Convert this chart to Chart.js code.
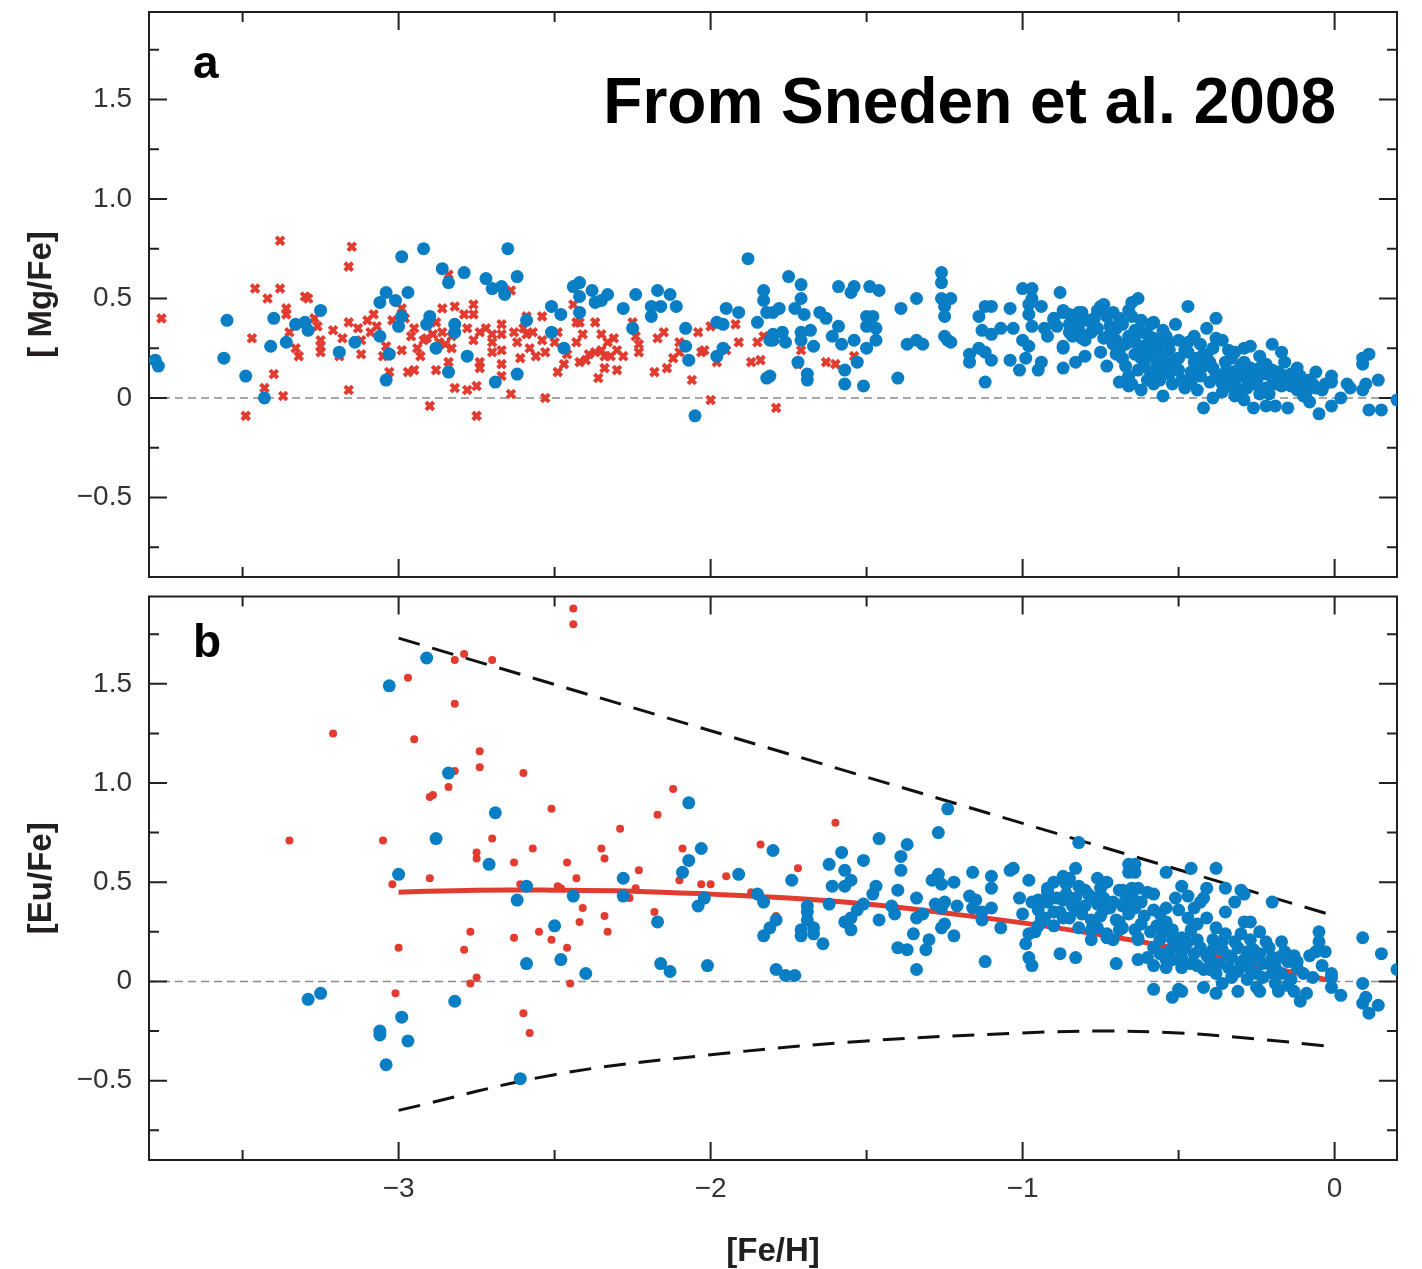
<!DOCTYPE html>
<html>
<head>
<meta charset="utf-8">
<script src="https://cdn.jsdelivr.net/npm/chart.js@4.4.1/dist/chart.umd.min.js"></script>
<style>
  body { margin: 0; background: #fff; width: 1422px; height: 1269px; position: relative; overflow: hidden; }
  .panel { position: absolute; left: 0; width: 1422px; }
  #topWrap { top: 0; height: 590px; }
  #botWrap { top: 590px; height: 679px; }
</style>
</head>
<body>
<div class="panel" id="topWrap"><canvas id="mgChart" width="1422" height="590"></canvas></div>
<div class="panel" id="botWrap"><canvas id="euChart" width="1422" height="679"></canvas></div>
<script>
// axis ranges and ticks
const xRange = [-3.8, 0.2];
const yRange = [-0.9, 1.94];
const xTickValues = [-3, -2, -1, 0];
const xTickText = ['\u22123', '\u22122', '\u22121', '0'];
const xMinorTicks = [-3.5, -2.5, -1.5, -0.5];
const yTickValues = [-0.5, 0, 0.5, 1, 1.5];
const yTickText = ['\u22120.5', '0', '0.5', '1.0', '1.5'];
const yMinorTicks = [-0.75, -0.25, 0.25, 0.75, 1.25, 1.75];

// panel a: [Mg/Fe] vs [Fe/H]
const mgBlue = [
  [-3.78,0.19],[-3.77,0.16],[-3.55,0.39],[-3.56,0.20],[-3.49,0.11],[-3.43,0.00],[-3.40,0.40],[-3.41,0.26],[-3.36,0.28],
  [-3.33,0.37],[-3.30,0.38],[-3.29,0.34],[-3.25,0.44],[-3.19,0.23],[-3.14,0.28],[-3.06,0.48],[-3.04,0.53],[-3.01,0.49],
  [-2.97,0.53],[-2.99,0.71],[-2.92,0.75],[-2.86,0.65],[-2.84,0.58],[-2.99,0.41],[-3.00,0.36],[-3.06,0.31],[-3.03,0.22],
  [-3.04,0.09],[-2.90,0.41],[-2.91,0.37],[-2.88,0.25],[-2.84,0.13],[-2.82,0.37],[-2.82,0.33],
  [-2.79,0.63],[-2.78,0.21],[-2.72,0.60],[-2.70,0.55],[-2.67,0.56],[-2.66,0.52],[-2.65,0.75],[-2.62,0.61],[-2.59,0.39],
  [-2.62,0.12],[-2.69,0.08],[-2.51,0.46],[-2.48,0.42],[-2.51,0.33],[-2.47,0.25],[-2.44,0.56],[-2.42,0.58],[-2.42,0.51],
  [-2.42,0.43],[-2.38,0.54],[-2.37,0.48],[-2.35,0.49],[-2.33,0.52],[-2.28,0.45],[-2.25,0.35],[-2.24,0.52],[-2.19,0.46],
  [-2.19,0.41],[-2.17,0.54],[-2.16,0.46],[-2.13,0.52],[-2.11,0.46],[-2.08,0.35],[-2.08,0.26],[-2.07,0.19],[-2.05,-0.09],
  [-1.98,0.38],[-1.96,0.37],[-1.98,0.21],[-1.96,0.25],[-1.95,0.45],[-1.91,0.43],[-1.88,0.70],[-1.85,0.38],[-1.83,0.54],
  [-1.83,0.49],[-1.82,0.43],[-1.81,0.29],[-1.82,0.10],
  [-1.80,0.43],[-1.80,0.32],[-1.80,0.29],[-1.81,0.11],[-1.78,0.45],[-1.77,0.33],[-1.76,0.28],[-1.75,0.61],[-1.73,0.45],
  [-1.71,0.57],[-1.71,0.50],[-1.71,0.33],[-1.71,0.29],[-1.70,0.42],[-1.72,0.18],[-1.69,0.12],[-1.69,0.09],[-1.68,0.34],
  [-1.67,0.26],[-1.65,0.43],[-1.63,0.40],[-1.61,0.31],[-1.59,0.36],[-1.59,0.56],[-1.58,0.27],[-1.57,0.14],[-1.57,0.07],
  [-1.55,0.53],[-1.54,0.56],[-1.54,0.29],[-1.53,0.18],[-1.51,0.06],[-1.50,0.25],[-1.50,0.41],[-1.50,0.36],[-1.49,0.56],
  [-1.48,0.41],[-1.47,0.35],[-1.47,0.29],[-1.46,0.54],[-1.40,0.10],[-1.39,0.45],[-1.37,0.27],[-1.34,0.50],[-1.34,0.29],
  [-1.32,0.27],[-1.26,0.63],[-1.26,0.58],[-1.26,0.50],[-1.25,0.46],[-1.25,0.41],[-1.23,0.50],[-1.25,0.31],[-1.24,0.29],
  [-1.23,0.28],[-1.17,0.22],[-1.17,0.18],[-1.14,0.41],[-1.14,0.25],[-1.13,0.34],[-1.12,0.23],[-1.12,0.46],[-1.12,0.08],
  [-1.10,0.46],[-1.10,0.19],[-1.10,0.32],[-1.07,0.35],[-1.04,0.45],[-1.04,0.19],[-1.03,0.35],[-1.01,0.14],[-1.00,0.55],
  [-1.00,0.29],[-0.99,0.20],[-0.98,0.26],[-0.97,0.55],[-0.98,0.47],[-0.97,0.50],[-0.98,0.42],[-0.97,0.36],[-0.95,0.14],
  [-0.94,0.18],[-0.94,0.46],[-0.93,0.35],[-0.92,0.31],[-0.90,0.40],[-0.88,0.53],[-0.87,0.44],[-0.87,0.15],[-0.87,0.25],
  [-0.85,0.37],[-0.84,0.31],[-0.83,0.18],[-0.82,0.40],[-0.82,0.34],
  [-0.87,0.43],[-0.85,0.42],[-0.85,0.33],[-0.87,0.26],[-0.89,0.36],[-0.90,0.39],
  [-0.82,0.43],[-0.82,0.37],[-0.79,0.39],[-0.78,0.33],[-0.80,0.29],[-0.76,0.44],[-0.74,0.47],[-0.73,0.41],[-0.76,0.35],
  [-0.74,0.30],[-0.75,0.23],[-0.73,0.16],[-0.71,0.43],[-0.70,0.35],[-0.70,0.29],[-0.69,0.24],[-0.69,0.08],[-0.68,0.37],
  [-0.67,0.16],[-0.66,0.44],[-0.65,0.48],[-0.65,0.41],[-0.64,0.34],[-0.64,0.28],[-0.65,0.07],[-0.63,0.50],[-0.62,0.39],
  [-0.62,0.26],[-0.62,0.20],[-0.63,0.14],[-0.62,0.04],[-0.60,0.32],[-0.60,0.21],[-0.59,0.13],[-0.58,0.38],[-0.57,0.25],
  [-0.57,0.18],[-0.56,0.09],[-0.55,0.01],[-0.54,0.31],[-0.53,0.24],[-0.54,0.16],[-0.52,0.07],[-0.51,0.37],[-0.50,0.29],
  [-0.75,0.46],[-0.81,0.43],[-0.78,0.38],[-0.81,0.30],[-0.80,0.21],[-0.66,0.06],[-0.59,0.37],[-0.54,0.30],[-0.58,0.07],
  [-0.47,0.46],[-0.41,0.35],[-0.38,0.40],[-0.45,0.31],[-0.38,0.30],[-0.36,0.29],[-0.39,0.25],[-0.47,0.23],[-0.44,0.20],
  [-0.41,0.21],[-0.34,0.24],[-0.32,0.23],[-0.29,0.25],[-0.27,0.26],[-0.29,0.18],[-0.24,0.21],[-0.20,0.27],[-0.17,0.23],
  [-0.24,0.15],[-0.16,0.18],[-0.12,0.15],[-0.06,0.13],[-0.01,0.11],[-0.01,0.08],[-0.13,0.08],[0.04,0.07],[0.05,0.05],
  [0.09,0.20],[0.11,0.22],[0.09,0.17],[0.14,0.09],[0.10,0.07],[0.09,0.04],[0.02,0.00],[0.11,-0.06],[0.15,-0.06],
  [0.20,-0.01],[-0.05,-0.08],[-0.01,-0.04],[-0.08,-0.02],[-0.15,-0.05],[-0.19,-0.04],[-0.22,-0.04],[-0.26,-0.05],
  [-0.29,-0.01],[-0.32,0.01],[-0.39,0.00],[-0.42,-0.05],[-0.36,0.03],[-0.32,0.07],[-0.28,0.05],[-0.25,0.08],[-0.22,0.05],
  [-0.18,0.08],[-0.15,0.10],[-0.12,0.04],[-0.09,0.03],[-0.04,0.04],[-0.22,0.17],[-0.18,0.13],[-0.28,0.13],[-0.33,0.13],
  [-0.37,0.10],[-0.40,0.08],[-0.43,0.11],[-0.46,0.13],[-0.39,0.15],[-0.31,0.11],[-0.26,0.07],[-0.49,0.09],[-0.48,0.05],
  [-0.45,0.18],[-0.42,0.16],[-0.35,0.18],[-0.33,0.20],[-0.30,0.16],[-0.27,0.10],[-0.20,0.10],[-0.17,0.06],[-0.14,0.12],
  [-0.10,0.08],[-0.07,0.07],[-0.24,0.02],[-0.34,0.06],[-0.44,0.04],[-0.47,0.28],[-0.43,0.27],[-0.50,0.20],[-0.53,0.12],
  [-0.56,0.28],[-0.60,0.27],[-0.66,0.31],[-0.68,0.20],[-0.71,0.27],
  [-0.62,0.33],[-0.58,0.30],[-0.55,0.22],[-0.52,0.18],[-0.50,0.14],[-0.48,0.24],[-0.46,0.08],[-0.44,0.14],[-0.42,0.22],
  [-0.40,0.18],[-0.38,0.12],[-0.36,0.07],[-0.35,0.13],[-0.33,0.09],[-0.31,0.14],[-0.30,0.04],[-0.28,0.09],[-0.27,0.15],
  [-0.25,0.11],[-0.23,0.12],[-0.21,0.02],[-0.20,0.14],[-0.19,0.07],[-0.16,0.11],[-0.14,0.06],[-0.11,0.11],[-0.10,0.01],
  [-0.08,0.09],[-0.06,0.05],[-0.03,0.07],[-0.72,0.32],[-0.69,0.40],[-0.67,0.27],[-0.64,0.22],[-0.61,0.16],[-0.58,0.24],
  [-0.55,0.34],[-0.53,0.28],[-0.77,0.40],[-0.72,0.36],[-0.70,0.22],[-0.66,0.11],[-0.60,0.09],[-0.56,0.13]
];
const mgRed = [
  [-3.76,0.40],[-3.49,-0.09],[-3.47,0.30],[-3.46,0.55],[-3.42,0.50],[-3.43,0.05],[-3.40,0.12],[-3.38,0.55],[-3.38,0.79],
  [-3.37,0.01],[-3.36,0.45],[-3.36,0.42],[-3.35,0.33],[-3.33,0.25],[-3.32,0.21],[-3.30,0.51],[-3.29,0.50],[-3.27,0.40],
  [-3.26,0.36],[-3.25,0.29],[-3.25,0.26],[-3.25,0.23],[-3.21,0.34],[-3.19,0.21],[-3.16,0.38],[-3.16,0.66],[-3.15,0.76],
  [-3.16,0.04],[-3.12,0.22],[-3.12,0.29],[-3.10,0.39],[-3.08,0.42],[-3.09,0.33],[-3.05,0.21],[-3.04,0.26],[-3.03,0.13],
  [-3.02,0.39],[-2.99,0.45],[-2.98,0.40],[-2.99,0.24],[-2.97,0.13],[-2.95,0.14],[-2.95,0.35],[-2.94,0.25],[-2.93,0.21],
  [-2.92,0.29],[-2.90,-0.04],[-2.89,0.32],[-2.88,0.14],[-2.88,0.38],[-2.86,0.45],[-2.84,0.18],[-2.84,0.62],[-2.83,0.31],
  [-2.82,0.46],[-2.82,0.05],[-2.91,0.30],[-2.87,0.28],[-2.86,0.33],[-2.85,0.27],[-2.83,0.25],[-2.96,0.31],[-3.07,0.36],
  [-3.13,0.35],[-3.18,0.30],
  [-2.76,0.47],[-2.79,0.42],[-2.76,0.42],[-2.78,0.35],[-2.76,0.29],[-2.74,0.33],[-2.72,0.35],[-2.70,0.32],[-2.74,0.15],
  [-2.74,0.18],[-2.78,0.04],[-2.75,0.06],[-2.75,-0.09],[-2.70,0.28],[-2.70,0.23],[-2.67,0.37],[-2.67,0.32],[-2.67,0.24],
  [-2.67,0.17],[-2.67,0.11],[-2.64,0.54],[-2.64,0.02],[-2.63,0.33],[-2.62,0.28],[-2.61,0.20],[-2.60,0.35],[-2.59,0.41],
  [-2.59,0.32],[-2.58,0.25],[-2.57,0.33],[-2.56,0.21],[-2.54,0.41],[-2.54,0.29],[-2.53,0.23],[-2.53,0.00],[-2.50,0.28],
  [-2.49,0.13],[-2.49,0.33],[-2.47,0.17],[-2.46,0.22],[-2.44,0.47],[-2.43,0.38],[-2.43,0.28],[-2.42,0.18],[-2.42,0.38],
  [-2.41,0.32],[-2.40,0.19],[-2.39,0.22],[-2.37,0.38],[-2.37,0.23],[-2.36,0.10],[-2.35,0.32],[-2.35,0.24],[-2.34,0.21],
  [-2.34,0.15],[-2.33,0.28],[-2.32,0.21],[-2.31,0.30],[-2.30,0.24],[-2.30,0.14],[-2.28,0.21],[-2.25,0.38],[-2.24,0.31],
  [-2.23,0.27],[-2.23,0.23],[-2.18,0.13],[-2.17,0.30],[-2.15,0.33],[-2.14,0.15],[-2.12,0.20],[-2.10,0.28],[-2.10,0.23],
  [-2.06,0.09],[-2.04,0.33],[-2.03,0.23],[-2.02,0.24],[-2.00,-0.01],[-2.00,0.36],[-1.98,0.18],[-1.95,0.24],[-1.92,0.37],
  [-1.91,0.28],[-1.87,0.18],[-1.85,0.28],[-1.84,0.19],[-1.83,0.31],
  [-1.79,-0.05],[-1.71,0.24],[-1.72,0.17],[-1.63,0.18],[-1.60,0.17],[-1.54,0.21]
];

// panel b: [Eu/Fe] vs [Fe/H]
const euBlue = [
  [-2.91,1.63],[-3.03,1.49],[-2.84,1.05],[-2.69,0.85],[-2.88,0.72],[-2.71,0.59],[-3.00,0.54],[-2.59,0.48],[-2.62,0.41],
  [-2.50,0.28],[-2.59,0.09],[-3.25,-0.06],[-3.29,-0.09],[-2.82,-0.10],[-2.99,-0.18],[-3.06,-0.25],[-3.06,-0.27],
  [-2.97,-0.30],[-3.04,-0.42],[-2.61,-0.49],
  [-2.07,0.90],[-2.03,0.67],[-2.07,0.61],[-2.09,0.55],[-1.91,0.54],[-2.28,0.52],[-2.28,0.43],[-2.44,0.43],[-2.02,0.42],
  [-2.04,0.38],[-2.17,0.30],[-2.48,0.11],[-2.40,0.04],[-2.16,0.09],[-2.13,0.05],[-2.01,0.08],[-1.80,0.66],[-1.74,0.51],
  [-1.85,0.44],[-1.83,0.40],[-1.79,0.31],[-1.81,0.27],[-1.83,0.23],[-1.69,0.38],[-1.69,0.35],[-1.69,0.31],[-1.71,0.26],
  [-1.71,0.23],[-1.67,0.27],[-1.67,0.24],[-1.64,0.19],[-1.79,0.06],[-1.76,0.03],[-1.73,0.03],[-1.62,0.59],[-1.58,0.65],
  [-1.57,0.56],[-1.61,0.48],[-1.57,0.48],[-1.62,0.39],[-1.57,0.30],[-1.55,0.51],
  [-1.24,0.87],[-1.27,0.75],[-0.82,0.70],[-1.46,0.72],[-1.37,0.69],[-1.51,0.61],[-1.39,0.63],[-1.39,0.56],[-1.47,0.48],
  [-1.48,0.44],[-1.40,0.46],[-1.51,0.39],[-1.53,0.36],[-1.55,0.32],[-1.55,0.26],[-1.46,0.31],[-1.42,0.38],[-1.41,0.34],
  [-1.34,0.42],[-1.32,0.34],[-1.34,0.32],[-1.35,0.24],[-1.40,0.17],[-1.37,0.16],[-1.30,0.21],[-1.31,0.16],[-1.34,0.06],
  [-1.29,0.51],[-1.27,0.54],[-1.26,0.49],[-1.22,0.50],[-1.28,0.39],[-1.25,0.40],[-1.26,0.37],[-1.21,0.38],[-1.25,0.29],
  [-1.26,0.27],[-1.22,0.23],[-1.16,0.55],[-1.17,0.43],[-1.15,0.41],[-1.16,0.37],[-1.13,0.35],[-1.13,0.31],[-1.10,0.53],
  [-1.10,0.47],[-1.10,0.37],[-1.07,0.27],[-1.12,0.10],[-1.04,0.56],[-1.03,0.57],[-1.01,0.42],[-1.00,0.34],[-0.98,0.51],
  [-0.97,0.40],[-0.98,0.24],[-0.99,0.19],[-0.98,0.12],[-0.97,0.08],[-0.95,0.41],[-0.94,0.32],[-0.94,0.30],[-0.92,0.45],
  [-0.90,0.50],[-0.89,0.42],[-0.90,0.28],[-0.88,0.14],[-0.87,0.53],[-0.86,0.49],[-0.87,0.41],[-0.88,0.35],[-0.85,0.52],
  [-0.83,0.57],[-0.82,0.48],[-0.83,0.42],[-0.83,0.36],[-0.85,0.32],[-0.82,0.27],[-0.83,0.12],[-0.79,0.44],[-0.80,0.38],
  [-0.78,0.31],[-0.78,0.21],[-0.76,0.52],[-0.75,0.47],[-0.76,0.39],[-0.74,0.36],[-0.76,0.27],[-0.73,0.24],[-0.70,0.09],
  [-0.71,0.21],[-0.69,0.46],[-0.69,0.30],[-0.67,0.41],[-0.68,0.27],[-0.66,0.59],[-0.66,0.55],
  [-0.72,0.37],[-0.70,0.31],[-0.66,0.34],[-0.68,0.46],[-0.65,0.47],[-0.78,0.26],[-0.87,0.32],[-0.90,0.35],[-0.93,0.32],
  [-0.95,0.28],[-0.96,0.25],[-0.73,0.22],[-0.69,0.26],[-0.63,0.21],[-0.63,0.11],
  [-0.64,0.59],[-0.64,0.55],[-0.54,0.55],[-0.46,0.57],[-0.49,0.48],[-0.60,0.45],[-0.58,0.44],[-0.63,0.47],[-0.62,0.40],
  [-0.64,0.37],[-0.58,0.36],[-0.56,0.34],[-0.54,0.37],[-0.51,0.42],[-0.47,0.43],[-0.45,0.37],[-0.50,0.36],[-0.47,0.32],
  [-0.54,0.30],[-0.62,0.29],[-0.64,0.26],[-0.63,0.22],[-0.59,0.25],[-0.56,0.21],[-0.52,0.26],[-0.52,0.21],[-0.49,0.22],
  [-0.46,0.26],[-0.58,0.17],[-0.53,0.15],[-0.48,0.17],[-0.54,0.11],[-0.54,0.07],[-0.49,0.12],[-0.49,0.07],[-0.46,0.09],
  [-0.58,-0.04],[-0.52,-0.08],[-0.50,-0.04],[-0.49,-0.05],
  [-0.38,0.57],[-0.35,0.47],[-0.41,0.47],[-0.42,0.42],[-0.43,0.40],[-0.30,0.46],[-0.29,0.44],[-0.32,0.40],[-0.20,0.40],
  [-0.35,0.35],[-0.41,0.32],[-0.44,0.29],[-0.29,0.30],[-0.27,0.30],[-0.38,0.27],[-0.35,0.24],[-0.30,0.24],[-0.24,0.25],
  [-0.44,0.21],[-0.39,0.21],[-0.31,0.17],[-0.26,0.16],[-0.21,0.17],[-0.17,0.20],[-0.05,0.25],[-0.05,0.20],[-0.06,0.15],
  [-0.03,0.15],[-0.04,0.08],[-0.01,0.04],[-0.01,0.02],[-0.01,-0.03],[0.02,-0.07],[0.09,0.22],[0.15,0.14],[0.20,0.06],
  [0.09,-0.01],[0.10,-0.08],[0.09,-0.11],[0.14,-0.12],[0.11,-0.16],[-0.11,-0.10],[-0.09,-0.06],[-0.13,-0.05],
  [-0.13,0.13],[-0.12,0.07],[-0.15,0.10],[-0.17,0.04],[-0.14,0.01],[-0.18,-0.05],[-0.19,-0.01],[-0.20,0.04],[-0.23,0.09],
  [-0.25,0.04],[-0.25,-0.03],[-0.24,-0.05],[-0.28,0.01],[-0.31,-0.05],[-0.31,0.05],[-0.34,0.07],[-0.36,-0.01],
  [-0.38,-0.06],[-0.42,-0.03],[-0.38,0.04],[-0.40,0.11],[-0.42,0.06],[-0.27,0.06],[-0.21,0.09],[-0.18,0.12],[-0.33,0.12],
  [-0.36,0.16],[-0.41,0.13],[-0.29,0.11],
  [-0.58,0.08],[-0.56,0.14],[-0.52,0.11],[-0.50,0.17],[-0.47,0.20],[-0.45,0.14],[-0.44,0.08],[-0.43,0.17],[-0.40,0.06],
  [-0.39,0.16],[-0.37,0.09],[-0.36,0.20],[-0.34,0.13],[-0.33,0.02],[-0.32,0.20],[-0.30,0.09],[-0.28,0.15],[-0.27,0.21],
  [-0.26,0.11],[-0.24,0.14],[-0.23,0.02],[-0.22,0.20],[-0.20,0.12],[-0.19,0.07],[-0.16,0.15],[-0.15,-0.02],[-0.12,0.10],
  [-0.10,0.04],[-0.08,0.13],[-0.07,0.02],[-0.60,0.12],[-0.61,0.33],[-0.57,0.28],[-0.55,0.25],
  [-0.95,0.36],[-0.92,0.40],[-0.86,0.44],[-0.80,0.46],[-0.77,0.42],[-0.74,0.42],[-0.71,0.40],[-0.68,0.38],[-0.65,0.43],
  [-0.84,0.38],[-0.81,0.34],[-0.75,0.33],[-0.92,0.47],[-0.73,0.50]
];
const euRed = [
  [-2.44,1.88],[-2.44,1.80],[-2.79,1.65],[-2.82,1.62],[-2.70,1.62],[-2.97,1.53],[-2.82,1.40],[-3.21,1.25],[-2.95,1.22],
  [-2.74,1.16],[-2.74,1.08],[-2.82,1.06],[-2.60,1.05],[-2.84,0.98],[-2.90,0.93],[-2.89,0.94],[-2.51,0.87],[-3.35,0.71],
  [-3.05,0.71],[-2.70,0.72],[-2.57,0.67],[-2.75,0.65],[-2.75,0.62],[-2.63,0.60],[-2.90,0.52],[-3.02,0.49],[-2.61,0.49],
  [-2.49,0.48],[-2.77,0.25],[-2.63,0.22],[-2.55,0.25],[-2.51,0.21],[-3.00,0.17],[-2.79,0.16],[-2.75,0.02],[-2.77,-0.01],
  [-3.01,-0.06],[-2.60,-0.16],[-2.58,-0.26],
  [-2.12,0.97],[-2.17,0.84],[-2.29,0.77],[-2.35,0.67],[-2.34,0.62],[-2.46,0.60],[-2.43,0.52],[-2.23,0.56],[-2.09,0.67],
  [-2.10,0.51],[-2.03,0.49],[-2.00,0.49],[-1.95,0.53],[-1.84,0.69],[-1.72,0.57],[-1.60,0.80],[-2.48,0.47],[-2.24,0.47],
  [-2.26,0.42],[-2.41,0.37],[-2.34,0.33],[-2.42,0.30],[-2.33,0.25],[-2.46,0.17],[-2.45,-0.01],[-2.18,0.35],[-1.87,0.45],
  [-1.79,0.33]
];
// mean trend (solid red) and envelope (dashed black)
const fitX = [-3, -2.75, -2.5, -2.25, -2, -1.75, -1.5, -1.25, -1, -0.75, -0.5, -0.25, 0];
const fitY = [0.45, 0.46, 0.46, 0.455, 0.44, 0.42, 0.39, 0.345, 0.295, 0.235, 0.165, 0.085, 0.0];
const upperX = [-3, 0];
const upperY = [1.73, 0.33];
const lowerX = [-3, -2.5, -2, -1.5, -1, -0.75, -0.5, -0.25, 0];
const lowerY = [-0.65, -0.47, -0.37, -0.30, -0.26, -0.25, -0.26, -0.29, -0.33];

const BLUE = '#0a7ec4';
const RED = '#e23b2f';
const INK = '#231f20';
const FONT = '"Liberation Sans", Arial, Helvetica, sans-serif';

const pts = arr => arr.map(([x, y]) => ({ x, y }));
const line = (xs, ys) => xs.map((x, i) => ({ x, y: ys[i] }));

// frame with inward ticks on four sides, dashed zero line, panel notes
const frameTicks = {
  id: 'frameTicks',
  beforeDatasetsDraw(chart) {
    const { ctx, chartArea: a, scales: { x, y } } = chart;
    ctx.save();
    const y0 = y.getPixelForValue(0);
    ctx.strokeStyle = '#8a8a8a';
    ctx.lineWidth = 1.5;
    ctx.setLineDash([8, 5]);
    ctx.beginPath();
    ctx.moveTo(a.left, y0);
    ctx.lineTo(a.right, y0);
    ctx.stroke();
    ctx.setLineDash([]);

    ctx.strokeStyle = INK;
    ctx.lineWidth = 2;
    ctx.strokeRect(a.left, a.top, a.right - a.left, a.bottom - a.top);
    ctx.beginPath();
    const yt = (v, len) => {
      const p = y.getPixelForValue(v);
      ctx.moveTo(a.left, p); ctx.lineTo(a.left + len, p);
      ctx.moveTo(a.right, p); ctx.lineTo(a.right - len, p);
    };
    const xt = (v, len) => {
      const p = x.getPixelForValue(v);
      ctx.moveTo(p, a.top); ctx.lineTo(p, a.top + len);
      ctx.moveTo(p, a.bottom); ctx.lineTo(p, a.bottom - len);
    };
    yTickValues.forEach(v => yt(v, 18));
    yMinorTicks.forEach(v => yt(v, 10));
    xTickValues.forEach(v => xt(v, 18));
    xMinorTicks.forEach(v => xt(v, 10));
    ctx.stroke();
    ctx.restore();
  },
  afterDraw(chart, args, opts) {
    const { ctx } = chart;
    ctx.save();
    ctx.fillStyle = '#000';
    ctx.textBaseline = 'alphabetic';
    (opts.notes || []).forEach(n => {
      ctx.font = 'bold ' + n.size + 'px ' + FONT;
      ctx.textAlign = n.align;
      ctx.fillText(n.text, n.x, n.y);
    });
    ctx.restore();
  }
};

// no extra room for half tick labels at the ends of an axis
const noEdgePadding = s => {
  s.paddingTop = 0; s.paddingBottom = 0; s.paddingLeft = 0; s.paddingRight = 0;
};

function yScale(title) {
  return {
    type: 'linear',
    min: yRange[0],
    max: yRange[1],
    afterBuildTicks: s => { s.ticks = yTickValues.map(v => ({ value: v })); },
    afterFit: s => { s.width = 149; noEdgePadding(s); },
    grid: { display: false, drawTicks: false },
    border: { display: false },
    ticks: {
      padding: 17,
      color: '#333',
      font: { family: FONT, size: 28 },
      callback: v => yTickText[yTickValues.indexOf(v)]
    },
    title: {
      display: true,
      text: title,
      color: INK,
      font: { family: FONT, size: 33, weight: 'bold', lineHeight: 1.2 },
      padding: { top: 22, bottom: 0 }
    }
  };
}

const common = {
  responsive: false,
  animation: false,
  devicePixelRatio: 1,
  events: [],
  plugins: { legend: { display: false }, tooltip: { enabled: false } }
};

new Chart(document.getElementById('mgChart'), {
  type: 'scatter',
  data: {
    datasets: [
      { data: pts(mgBlue), pointStyle: 'circle', pointRadius: 6.5, backgroundColor: BLUE, borderWidth: 0, order: 0 },
      { data: pts(mgRed), pointStyle: 'crossRot', pointRadius: 5.5, borderColor: RED, borderWidth: 4, order: 1 }
    ]
  },
  options: {
    ...common,
    layout: { padding: { left: 0, right: 25, top: 12, bottom: 13 } },
    plugins: {
      ...common.plugins,
      frameTicks: {
        notes: [
          { text: 'a', x: 193, y: 78, size: 46, align: 'left' },
          { text: 'From Sneden et al. 2008', x: 1336, y: 123, size: 64, align: 'right' }
        ]
      }
    },
    scales: {
      x: { type: 'linear', min: xRange[0], max: xRange[1], display: false, afterFit: noEdgePadding },
      y: yScale('[ Mg/Fe]')
    }
  },
  plugins: [frameTicks]
});

new Chart(document.getElementById('euChart'), {
  type: 'scatter',
  data: {
    datasets: [
      { data: pts(euBlue), pointStyle: 'circle', pointRadius: 6.5, backgroundColor: BLUE, borderWidth: 0, order: 0 },
      { data: pts(euRed), pointStyle: 'circle', pointRadius: 4, backgroundColor: RED, borderWidth: 0, order: 1 },
      { type: 'line', data: line(fitX, fitY), borderColor: RED, borderWidth: 5, pointRadius: 0, tension: 0.4, fill: false, order: 2 },
      { type: 'line', data: line(upperX, upperY), borderColor: '#111', borderWidth: 3, borderDash: [22, 13], pointRadius: 0, fill: false, order: 3 },
      { type: 'line', data: line(lowerX, lowerY), borderColor: '#111', borderWidth: 3, borderDash: [22, 13], pointRadius: 0, tension: 0.4, fill: false, order: 3 }
    ]
  },
  options: {
    ...common,
    layout: { padding: { left: 0, right: 25, top: 4, bottom: 0 } },
    plugins: {
      ...common.plugins,
      frameTicks: {
        notes: [{ text: 'b', x: 193, y: 67, size: 46, align: 'left' }]
      }
    },
    scales: {
      x: {
        type: 'linear',
        min: xRange[0],
        max: xRange[1],
        afterBuildTicks: s => { s.ticks = xTickValues.map(v => ({ value: v })); },
        afterFit: s => { s.height = 109; noEdgePadding(s); },
        grid: { display: false, drawTicks: false },
        border: { display: false },
        ticks: {
          padding: 12,
          maxRotation: 0,
          color: '#333',
          font: { family: FONT, size: 28 },
          callback: v => xTickText[xTickValues.indexOf(v)]
        },
        title: {
          display: true,
          text: '[Fe/H]',
          color: INK,
          font: { family: FONT, size: 33, weight: 'bold', lineHeight: 1 },
          padding: { top: 0, bottom: 1 }
        }
      },
      y: yScale('[Eu/Fe]')
    }
  },
  plugins: [frameTicks]
});
</script>
</body>
</html>
